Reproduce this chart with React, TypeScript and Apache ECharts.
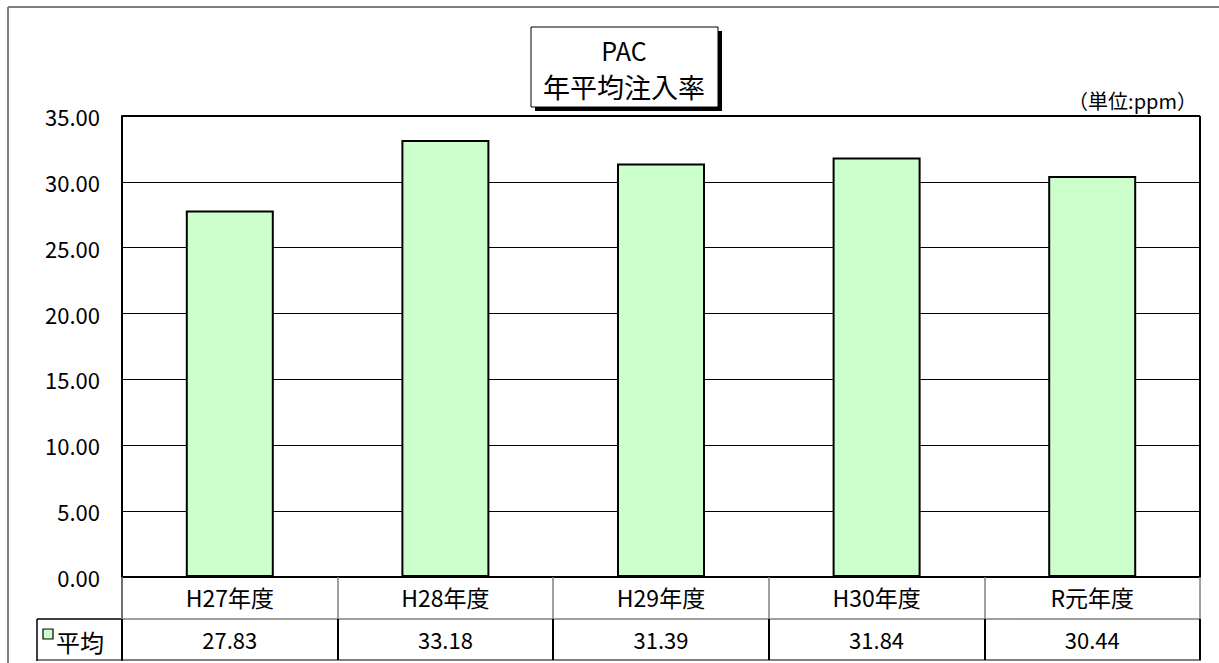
import React, { useEffect, useRef } from "react";
import * as echarts from "echarts";

const categories = ["H27年度", "H28年度", "H29年度", "H30年度", "R元年度"];
const averages = [27.83, 33.18, 31.39, 31.84, 30.44];
const seriesName = "平均";
const titleLines = ["PAC", "年平均注入率"];
const unitLabel = "（単位:ppm）";

const FONT = "'Noto Sans CJK JP', 'Noto Sans', sans-serif";

export default function App() {
  const ref = useRef<HTMLDivElement>(null);
  useEffect(() => {
    if (!ref.current) return;
    const chart = echarts.init(ref.current, undefined, { renderer: "svg" });
    chart.setOption({
      animation: false,
      backgroundColor: "#ffffff",
      textStyle: { fontFamily: FONT },
      grid: { left: 122, right: 19, top: 116, bottom: 86, show: false },
      xAxis: [
        {
          type: "category",
          data: categories,
          position: "bottom",
          axisLine: { show: true, lineStyle: { color: "#000", width: 2 } },
          axisTick: { show: true, length: 42, lineStyle: { color: "#808080", width: 1.5 } },
          axisLabel: { color: "#000", fontSize: 23, margin: 8, fontFamily: FONT },
        },
        {
          type: "category",
          data: averages.map((v) => v.toFixed(2)),
          position: "bottom",
          offset: 42,
          axisLine: { show: true, lineStyle: { color: "#808080", width: 1.5 } },
          axisTick: { show: true, length: 41, lineStyle: { color: "#000", width: 2 } },
          axisLabel: { color: "#000", fontSize: 22, margin: 9, fontFamily: FONT },
        },
      ],
      yAxis: {
        type: "value",
        min: 0,
        max: 35,
        interval: 5,
        axisLine: { show: true, lineStyle: { color: "#000", width: 2 } },
        axisTick: { show: false },
        axisLabel: {
          color: "#000",
          fontSize: 22,
          margin: 22,
          fontFamily: FONT,
          formatter: (v: number) => v.toFixed(2),
        },
        splitLine: { show: true, lineStyle: { color: "#000", width: 1 } },
      },
      series: [
        {
          name: seriesName,
          type: "bar",
          data: averages,
          barWidth: 88,
          itemStyle: { color: "#CCFFCC", borderColor: "#000", borderWidth: 2 },
        },
      ],
      graphic: [
        // outer chart border (left & top)
        { type: "line", shape: { x1: 8, y1: 7, x2: 8, y2: 663 }, style: { stroke: "#808080", lineWidth: 2 } },
        { type: "line", shape: { x1: 8, y1: 7, x2: 1219, y2: 7 }, style: { stroke: "#808080", lineWidth: 2 } },
        // plot area top and right borders
        { type: "line", shape: { x1: 122, y1: 116, x2: 1200, y2: 116 }, style: { stroke: "#000", lineWidth: 2 } },
        { type: "line", shape: { x1: 1200, y1: 116, x2: 1200, y2: 577 }, style: { stroke: "#000", lineWidth: 2 } },
        // table bottom line
        { type: "line", shape: { x1: 37, y1: 660, x2: 1201, y2: 660 }, style: { stroke: "#808080", lineWidth: 2 } },
        // legend cell
        { type: "line", shape: { x1: 37, y1: 619, x2: 122, y2: 619 }, style: { stroke: "#000", lineWidth: 1.5 } },
        { type: "line", shape: { x1: 37, y1: 619, x2: 37, y2: 661 }, style: { stroke: "#000", lineWidth: 1.5 } },
        { type: "line", shape: { x1: 122, y1: 577, x2: 122, y2: 661 }, style: { stroke: "#000", lineWidth: 1.5 } },
        { type: "rect", shape: { x: 43, y: 629, width: 10, height: 10 }, style: { fill: "#CCFFCC", stroke: "#000", lineWidth: 1.2 } },
        {
          type: "text",
          x: 56,
          y: 641,
          style: { text: seriesName, fontSize: 24, fill: "#000", fontFamily: FONT, verticalAlign: "middle" },
        },
        // title box with shadow
        { type: "rect", shape: { x: 535, y: 31, width: 187, height: 80 }, style: { fill: "#000" } },
        { type: "rect", shape: { x: 531, y: 27, width: 187, height: 80 }, style: { fill: "#fff", stroke: "#000", lineWidth: 1 } },
        {
          type: "text",
          x: 624,
          y: 50,
          style: { text: titleLines[0], fontSize: 25, fill: "#000", fontFamily: FONT, align: "center", verticalAlign: "middle" },
        },
        {
          type: "text",
          x: 624,
          y: 86,
          style: { text: titleLines[1], fontSize: 27, fill: "#000", fontFamily: FONT, align: "center", verticalAlign: "middle" },
        },
        // unit label
        {
          type: "text",
          x: 1197,
          y: 100,
          style: { text: unitLabel, fontSize: 20, fill: "#000", fontFamily: FONT, align: "right", verticalAlign: "middle" },
        },
      ],
    });
    return () => chart.dispose();
  }, []);
  return (
    <div
      ref={ref}
      style={{ position: "fixed", left: 0, top: 0, width: 1219, height: 663 }}
    />
  );
}
